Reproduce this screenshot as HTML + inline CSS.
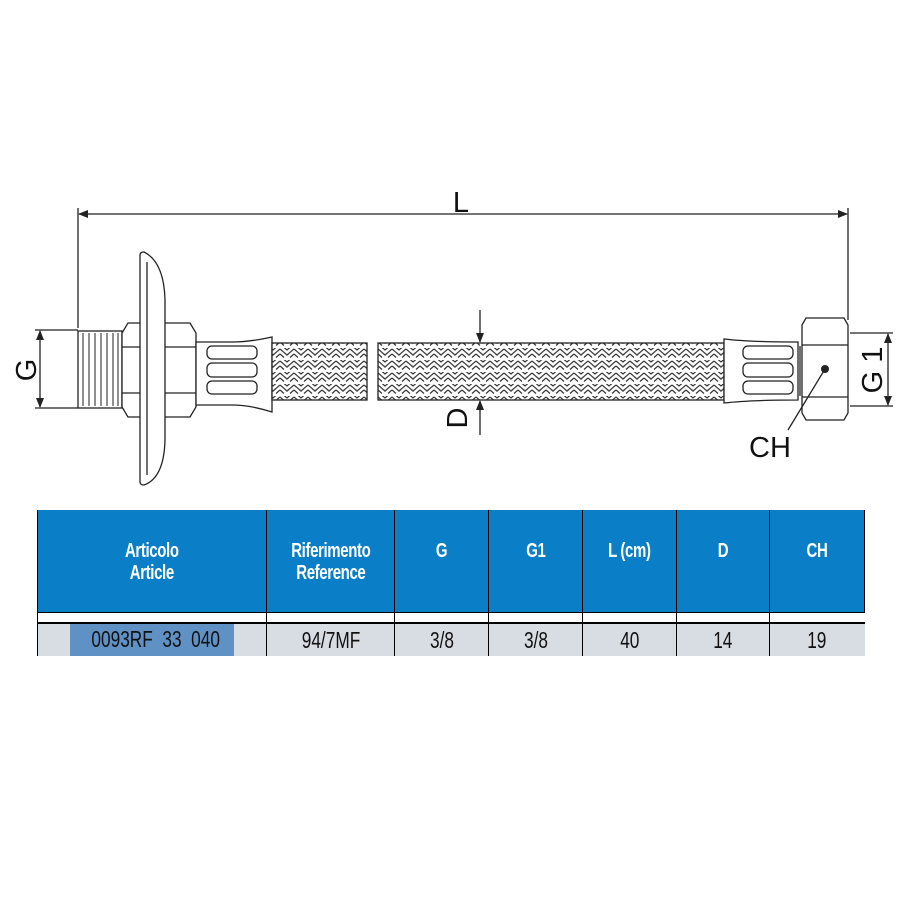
<!DOCTYPE html>
<html><head><meta charset="utf-8"><style>
body{margin:0;background:#fff;width:900px;height:900px;overflow:hidden;font-family:"Liberation Sans",sans-serif}
svg{position:absolute;left:0;top:0}
table{position:absolute;left:37px;top:510px;border-collapse:collapse;width:827px;table-layout:fixed;font-family:"Liberation Sans",sans-serif}
td{padding:0;text-align:center}
td span.n{display:inline-block;transform:scaleX(0.75)}
.h td{background:#0a7fc7;color:#fff;font-weight:bold;height:72px;padding-top:30px;vertical-align:top;border-left:1px solid #000;font-size:20px;line-height:22px;letter-spacing:-0.5px}
.sp td{height:9px;border-left:1px solid #000;border-top:1px solid #000}
.r td{background:#d8dde3;height:31px;border-left:1px solid #000;border-top:2px solid #000;font-size:23px;color:#111}
</style></head><body>
<svg width="900" height="900" viewBox="0 0 900 900">
<defs>
<pattern id="br" width="14" height="12" patternUnits="userSpaceOnUse">
<rect width="14" height="12" fill="#fff"/>
<path d="M0 1 L7 7 L14 1 M0 6 L4 9.5 M10 9.5 L14 6 M0 -4 L7 2 L14 -4" stroke="#333" stroke-width="1.2" fill="none"/>
<path d="M2 3 L7 7.5 L12 3" stroke="#555" stroke-width="0.8" fill="none"/>
</pattern>
<marker id="a" markerWidth="10" markerHeight="8" refX="9" refY="4" orient="auto" markerUnits="userSpaceOnUse"><path d="M0 0 L10 4 L0 8 Z" fill="#222"/></marker>
</defs>
<g stroke="#222" stroke-width="1.3" fill="none">
<line x1="78" y1="208" x2="78" y2="328"/>
<line x1="848" y1="208" x2="848" y2="320"/>
<line x1="90" y1="214" x2="79" y2="214" marker-end="url(#a)"/>
<line x1="90" y1="214" x2="847" y2="214" marker-end="url(#a)"/>
<line x1="35" y1="330" x2="78" y2="330"/>
<line x1="35" y1="408" x2="78" y2="408"/>
<line x1="40" y1="370" x2="40" y2="331" marker-end="url(#a)"/>
<line x1="40" y1="370" x2="40" y2="407" marker-end="url(#a)"/>
<rect x="78" y="331" width="44" height="77" fill="#fff"/>
<g stroke-width="1">
<line x1="83" y1="333" x2="83" y2="406"/><line x1="89" y1="333" x2="89" y2="406"/><line x1="95" y1="333" x2="95" y2="406"/><line x1="101" y1="333" x2="101" y2="406"/><line x1="107" y1="333" x2="107" y2="406"/><line x1="113" y1="333" x2="113" y2="406"/><line x1="118" y1="333" x2="118" y2="406"/>
</g>
<path d="M122 333 L128 323 L190 323 L196 333 L196 407 L190 417 L128 417 L122 407 Z" fill="#fff"/>
<line x1="122" y1="347" x2="196" y2="347"/><line x1="122" y1="393" x2="196" y2="393"/>
<path d="M140 255 Q140 252 144 252 Q164 262 165 300 L165 440 Q164 478 144 485 Q140 485 140 482 Z" fill="#fff"/>
<line x1="147" y1="262" x2="147" y2="475"/>
<path d="M196 342 L232 342 Q250 342 272 337 L272 412 Q250 405 232 405 L196 405 Z" fill="#fff"/>
<rect x="207" y="346" width="50" height="13" rx="5"/><rect x="207" y="363" width="50" height="14" rx="5"/><rect x="207" y="381" width="50" height="13" rx="5"/>
<rect x="272" y="343" width="95" height="57" fill="url(#br)"/>
<rect x="378" y="343" width="346" height="57" fill="url(#br)"/>
<line x1="480" y1="310" x2="480" y2="342" marker-end="url(#a)"/>
<line x1="480" y1="435" x2="480" y2="401" marker-end="url(#a)"/>
<path d="M724 339 Q750 342 798 342 L798 400 Q750 400 724 403 Z" fill="#fff"/>
<rect x="743" y="346" width="50" height="13" rx="5"/><rect x="743" y="363" width="50" height="14" rx="5"/><rect x="743" y="381" width="50" height="13" rx="5"/>
<line x1="800" y1="346" x2="800" y2="396"/>
<path d="M802 325 L806 318 L844 318 L848 325 L848 413 L844 420 L806 420 L802 413 Z" fill="#fff"/>
<line x1="802" y1="345" x2="848" y2="345"/><line x1="802" y1="397" x2="848" y2="397"/>
<line x1="825" y1="369" x2="788" y2="430"/>
<line x1="850" y1="333" x2="893" y2="333"/>
<line x1="850" y1="406" x2="893" y2="406"/>
<line x1="888" y1="370" x2="888" y2="334" marker-end="url(#a)"/>
<line x1="888" y1="370" x2="888" y2="405" marker-end="url(#a)"/>
</g>
<circle cx="825" cy="369" r="4" fill="#222"/>
<g font-family="Liberation Sans, sans-serif" font-size="29" fill="#111">
<text x="461" y="212" text-anchor="middle">L</text>
<text x="0" y="0" transform="translate(36,370) rotate(-90)" text-anchor="middle">G</text>
<text x="0" y="0" transform="translate(467,418) rotate(-90)" text-anchor="middle">D</text>
<text x="0" y="0" transform="translate(882,370) rotate(-90)" text-anchor="middle">G 1</text>
<text x="770" y="457" text-anchor="middle">CH</text>
</g>
</svg>
<table>
<colgroup><col style="width:229px"><col style="width:128px"><col style="width:94px"><col style="width:94px"><col style="width:94px"><col style="width:93px"><col style="width:95px"></colgroup>
<tr class="h"><td><span class="n">Articolo<br>Article</span></td><td><span class="n">Riferimento<br>Reference</span></td><td><span class="n">G</span></td><td><span class="n">G1</span></td><td><span class="n">L (cm)</span></td><td><span class="n">D</span></td><td style="border-right:1px solid #000"><span class="n">CH</span></td></tr>
<tr class="sp"><td></td><td></td><td></td><td></td><td></td><td></td><td></td></tr>
<tr class="r"><td><span style="display:inline-block;background:#5f91c4;width:164px;padding:2px 0 3px"><span class="n" style="white-space:nowrap">0093RF&nbsp; 33&nbsp; 040</span></span></td><td><span class="n">94/7MF</span></td><td><span class="n">3/8</span></td><td><span class="n">3/8</span></td><td><span class="n">40</span></td><td><span class="n">14</span></td><td><span class="n">19</span></td></tr>
</table>
</body></html>
